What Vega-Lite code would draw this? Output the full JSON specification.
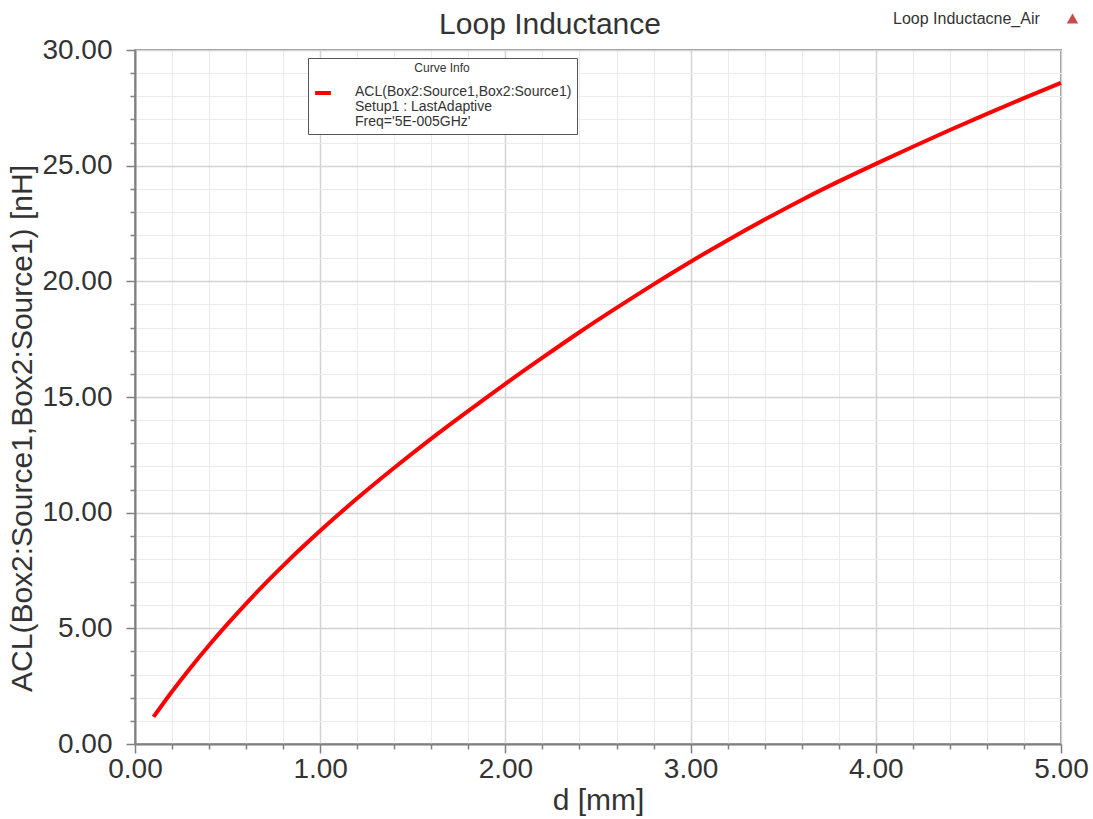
{
  "$schema": "https://vega.github.io/schema/vega-lite/v6.json",
  "width": 926,
  "height": 694,
  "autosize": {"type": "none"},
  "padding": {"left": 135, "top": 50, "right": 32, "bottom": 75},
  "background": "white",
  "config": {
    "font": "Liberation Sans",
    "view": {"stroke": "#9a9a9a", "strokeWidth": 2}
  },
  "title": {
    "text": "Loop Inductance",
    "fontSize": 30,
    "font": "Liberation Sans",
    "fontWeight": "normal",
    "color": "#333333",
    "anchor": "middle",
    "frame": "group",
    "baseline": "alphabetic",
    "dx": -48,
    "dy": 34,
    "offset": -18
  },
  "data": {
    "values": [
      {"d": 0.1, "L": 1.17},
      {"d": 0.2, "L": 2.27},
      {"d": 0.3, "L": 3.3},
      {"d": 0.4, "L": 4.27},
      {"d": 0.5, "L": 5.19},
      {"d": 0.6, "L": 6.07},
      {"d": 0.7, "L": 6.91},
      {"d": 0.8, "L": 7.71},
      {"d": 0.9, "L": 8.48},
      {"d": 1.0, "L": 9.22},
      {"d": 1.2, "L": 10.62},
      {"d": 1.4, "L": 11.94},
      {"d": 1.6, "L": 13.2},
      {"d": 1.8, "L": 14.4},
      {"d": 2.0, "L": 15.57},
      {"d": 2.2, "L": 16.7},
      {"d": 2.4, "L": 17.8},
      {"d": 2.6, "L": 18.85},
      {"d": 2.8, "L": 19.87},
      {"d": 3.0, "L": 20.85},
      {"d": 3.2, "L": 21.78},
      {"d": 3.4, "L": 22.67},
      {"d": 3.6, "L": 23.52},
      {"d": 3.8, "L": 24.32},
      {"d": 4.0, "L": 25.08},
      {"d": 4.2, "L": 25.82},
      {"d": 4.4, "L": 26.54},
      {"d": 4.6, "L": 27.24},
      {"d": 4.8, "L": 27.92},
      {"d": 5.0, "L": 28.58}
    ]
  },
  "layer": [
    {
      "mark": {"type": "line", "strokeWidth": 4, "interpolate": "monotone"},
      "encoding": {
        "x": {
          "field": "d",
          "type": "quantitative",
          "scale": {"domain": [0, 5], "nice": false, "zero": false},
          "axis": {
            "values": [0, 0.2, 0.4, 0.6, 0.8, 1, 1.2, 1.4, 1.6, 1.8, 2, 2.2, 2.4, 2.6, 2.8, 3, 3.2, 3.4, 3.6, 3.8, 4, 4.2, 4.4, 4.6, 4.8, 5],
            "labelExpr": "datum.value % 1 === 0 ? format(datum.value, '.2f') : ''",
            "title": "d [mm]",
            "titleFontSize": 30,
            "titleFontWeight": "normal",
            "titleColor": "#333333",
            "titlePadding": 2,
            "labelFontSize": 28,
            "labelColor": "#333333",
            "labelPadding": 2,
            "labelOverlap": false,
            "labelFlush": false,
            "domainColor": "#808080",
            "domainWidth": 2,
            "tickColor": "#808080",
            "tickWidth": 1.5,
            "tickSize": {"condition": {"test": "datum.value % 1 === 0", "value": 9}, "value": 5},
            "grid": true,
            "gridColor": {"condition": {"test": "datum.value % 1 === 0", "value": "#d2d2d2"}, "value": "#ebebeb"},
            "gridWidth": {"condition": {"test": "datum.value % 1 === 0", "value": 1.5}, "value": 1}
          }
        },
        "y": {
          "field": "L",
          "type": "quantitative",
          "scale": {"domain": [0, 30], "nice": false},
          "axis": {
            "values": [0, 1, 2, 3, 4, 5, 6, 7, 8, 9, 10, 11, 12, 13, 14, 15, 16, 17, 18, 19, 20, 21, 22, 23, 24, 25, 26, 27, 28, 29, 30],
            "labelExpr": "datum.value % 5 === 0 ? format(datum.value, '.2f') : ''",
            "title": "ACL(Box2:Source1,Box2:Source1) [nH]",
            "titleFontSize": 30,
            "titleFontWeight": "normal",
            "titleColor": "#333333",
            "titlePadding": 4,
            "titleY": 378,
            "labelFontSize": 28,
            "labelColor": "#333333",
            "labelPadding": 14,
            "labelOverlap": false,
            "labelFlush": false,
            "domainColor": "#808080",
            "domainWidth": 2,
            "tickColor": "#808080",
            "tickWidth": 1.5,
            "tickSize": {"condition": {"test": "datum.value % 5 === 0", "value": 9}, "value": 5},
            "grid": true,
            "gridColor": {"condition": {"test": "datum.value % 5 === 0", "value": "#d2d2d2"}, "value": "#ebebeb"},
            "gridWidth": {"condition": {"test": "datum.value % 5 === 0", "value": 1.5}, "value": 1}
          }
        },
        "color": {
          "datum": "ACL(Box2:Source1,Box2:Source1)",
          "scale": {"range": ["#ff0000"]},
          "legend": {
            "orient": "none",
            "legendX": 173,
            "legendY": 8,
            "title": "Curve Info",
            "titleFontSize": 12,
            "titleFontWeight": "normal",
            "titleColor": "#333333",
            "titleAnchor": "middle",
            "titlePadding": 8,
            "labelFontSize": 14,
            "labelColor": "#333333",
            "labelLimit": 400,
            "labelOffset": 22,
            "labelBaseline": "top",
            "labelExpr": "['ACL(Box2:Source1,Box2:Source1)', 'Setup1 : LastAdaptive', \"Freq='5E-005GHz'\"]",
            "symbolType": "stroke",
            "symbolStrokeWidth": 4,
            "symbolSize": 250,
            "strokeColor": "#555555",
            "fillColor": "white",
            "padding": 5,
            "encode": {
              "labels": {"update": {"dy": {"value": -8}, "lineHeight": {"value": 15}}}
            }
          }
        }
      }
    },
    {
      "mark": {"type": "point", "filled": true, "opacity": 0, "color": "#c94a4a"},
      "encoding": {
        "shape": {
          "datum": "Loop Inductacne_Air",
          "scale": {"range": ["triangle-up"]},
          "legend": {
            "orient": "none",
            "legendX": 758,
            "legendY": -38,
            "title": "Loop Inductacne_Air",
            "titleOrient": "left",
            "titleFontSize": 16,
            "titleFontWeight": "normal",
            "titleColor": "#333333",
            "titlePadding": 26,
            "labelExpr": "''",
            "labelOffset": 0,
            "symbolType": "triangle-up",
            "symbolFillColor": "#c94a4a",
            "symbolStrokeColor": "#c94a4a",
            "symbolOpacity": 1,
            "symbolSize": 130,
            "padding": 0
          }
        }
      }
    }
  ]
}
